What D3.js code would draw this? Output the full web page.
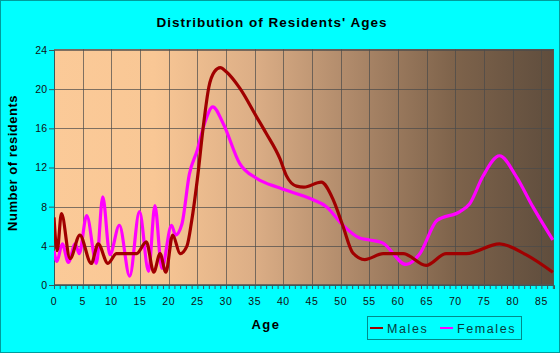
<!DOCTYPE html>
<html><head><meta charset="utf-8">
<script src="https://cdn.jsdelivr.net/npm/d3@7"></script>
<style>body{margin:0;background:#00ffff}svg{display:block}text{font-family:Arial,"Liberation Sans",sans-serif}</style>
</head><body>
<svg id="c" width="560" height="353"></svg>
<script>
const title = "Distribution of Residents' Ages";
const xTicks = [0,5,10,15,20,25,30,35,40,45,50,55,60,65,70,75,80,85];
const yTicks = [0,4,8,12,16,20,24];
const seriesNames = ["Males","Females"];
const maleAges = [0,0.55,1.3,2.8,4.5,6.5,7.7,9.4,10.9,14.4,16.1,17.4,18.5,19.5,20.7,22,23.2,24,25,26,27,28,29,30,32.4,35.3,37,39.4,40.5,42.3,43.6,46.6,48.7,50.4,52.1,54.2,57.4,60.9,64.9,68.4,71.9,77.7,82.3,87];
const maleValues = [6.9,3.5,7.3,2.7,5.1,2.2,4.2,2.2,3.2,3.2,4.4,1.3,3.2,1.3,5.1,3.2,4.0,6.5,10.8,16.0,20.2,21.8,22.2,21.8,20.1,17.2,15.5,12.9,11.2,10.1,10.0,10.5,8.7,6.0,3.3,2.6,3.2,3.2,2.0,3.2,3.2,4.2,3.1,1.3];
const femaleAges = [0,0.5,1.45,2.5,3.7,4.4,5.7,7.4,8.5,9.75,11.4,13.2,14.9,16.5,17.6,18.8,20.5,21.2,22.3,23.6,25,26.2,27.7,29.5,32.4,35.3,39.4,45.2,47.5,50.4,53.3,55,57.3,61.4,63.8,66.8,70.8,72.5,74.8,77.7,80.6,83.5,87];
const femaleValues = [3.5,2.4,4.2,2.3,4.2,3.2,7.1,2.2,9.0,3.1,6.1,0.9,7.5,1.4,8.1,1.7,6.1,5.1,6.2,11.3,13.8,16.4,18.2,16.5,12.4,10.9,9.9,8.7,8.0,6.1,4.8,4.6,4.3,2.1,3.2,6.6,7.5,8.3,11.1,13.2,11.1,8.0,4.6];
const colors = ["#a00000","#ff00ff"];

const svg = d3.select("#c");
const L=54, R=554, T=49, B=285;
const x = d3.scaleLinear().domain([0,87.2]).range([L,R]);
const y = d3.scaleLinear().domain([0,24]).range([B,T+1]);

svg.append("rect").attr("x",0.5).attr("y",0.5).attr("width",559).attr("height",352).attr("fill","#00ffff").attr("stroke","#009c9c");

const defs = svg.append("defs");
const g = defs.append("linearGradient").attr("id","bg").attr("x1","0").attr("x2","1").attr("y1","0").attr("y2","0");
[[0,"#fbca98"],[0.2,"#f9c795"],[0.4,"#dcae86"],[0.6,"#ad8869"],[0.8,"#7e634b"],[1,"#5f4d3d"]].forEach(s=>g.append("stop").attr("offset",s[0]).attr("stop-color",s[1]));
svg.append("rect").attr("x",L).attr("y",T).attr("width",R-L).attr("height",B-T).attr("fill","url(#bg)");

// grid
svg.append("g").selectAll("line").data(xTicks.filter(d=>d>0)).join("line")
  .attr("x1",d=>Math.round(x(d))+0.5).attr("x2",d=>Math.round(x(d))+0.5).attr("y1",T).attr("y2",B)
  .attr("stroke","#4a4a4a").attr("stroke-opacity",0.7);
svg.append("g").selectAll("line").data(yTicks.filter(d=>d>0)).join("line")
  .attr("x1",L).attr("x2",R).attr("y1",d=>Math.round(y(d))+0.5).attr("y2",d=>Math.round(y(d))+0.5)
  .attr("stroke","#4a4a4a").attr("stroke-opacity",0.7);
svg.append("rect").attr("x",L+0.5).attr("y",T+0.5).attr("width",R-L-1).attr("height",B-T-1).attr("fill","none").attr("stroke","#555").attr("stroke-opacity",0.8);

// axes
const xAxis = svg.append("g").attr("transform",`translate(0,${B})`)
  .call(d3.axisBottom(x).tickValues(d3.range(0,88,1)).tickSize(4).tickFormat(""));
xAxis.select(".domain").attr("stroke","#3a5a5a");
xAxis.selectAll("line").attr("stroke","#3a5a5a");
svg.append("g").selectAll("text").data(xTicks).join("text")
  .attr("x",d=>x(d)).attr("y",B+20).attr("text-anchor","middle")
  .attr("font-size",10.5).attr("letter-spacing",0.6).attr("fill","#111").text(d=>d);
const yAxis = svg.append("g").attr("transform",`translate(${L},0)`)
  .call(d3.axisLeft(y).tickValues(yTicks).tickSize(5).tickPadding(2));
yAxis.select(".domain").attr("stroke","#3a5a5a");
yAxis.selectAll("line").attr("stroke","#3a5a5a");
yAxis.selectAll("text").attr("font-size",10.5).attr("fill","#111").attr("font-family","Arial, Liberation Sans, sans-serif");

// lines
const line = d3.line().curve(d3.curveMonotoneX).x(d=>x(d[0])).y(d=>y(d[1]));
svg.append("defs").append("clipPath").attr("id","clip").append("rect").attr("x",L).attr("y",T).attr("width",R-L).attr("height",B-T);
const series = [d3.zip(maleAges,maleValues), d3.zip(femaleAges,femaleValues)];
svg.append("g").attr("clip-path","url(#clip)").selectAll("path").data([1,0]).join("path")
  .attr("d",i=>line(series[i])).attr("fill","none").attr("stroke",i=>colors[i]).attr("stroke-width",3.2).attr("stroke-linejoin","round");

// titles
svg.append("text").attr("x",272).attr("y",27).attr("text-anchor","middle").attr("font-size",13.5).attr("font-weight","bold").attr("letter-spacing",1).attr("fill","#000").text(title);
svg.append("text").attr("transform","translate(17,163) rotate(-90)").attr("text-anchor","middle").attr("font-size",13).attr("font-weight","bold").attr("letter-spacing",0.5).attr("fill","#000").text("Number of residents");
svg.append("text").attr("x",266).attr("y",329).attr("text-anchor","middle").attr("font-size",13).attr("font-weight","bold").attr("letter-spacing",1.5).attr("fill","#000").text("Age");

// legend
svg.append("rect").attr("x",367.5).attr("y",316.5).attr("width",154).attr("height",23).attr("fill","none").attr("stroke","#008b8b");
const lg = svg.append("g").selectAll("g").data(seriesNames).join("g").attr("transform",(d,i)=>`translate(${i?440:370},328)`);
lg.append("line").attr("x1",0).attr("x2",13).attr("y1",0).attr("y2",0).attr("stroke",(d,i)=>colors[i]).attr("stroke-width",2);
lg.append("text").attr("x",17).attr("y",4.5).attr("font-size",12.5).attr("letter-spacing",1.6).attr("fill","#063c3c").text(d=>d);
</script>
</body></html>
